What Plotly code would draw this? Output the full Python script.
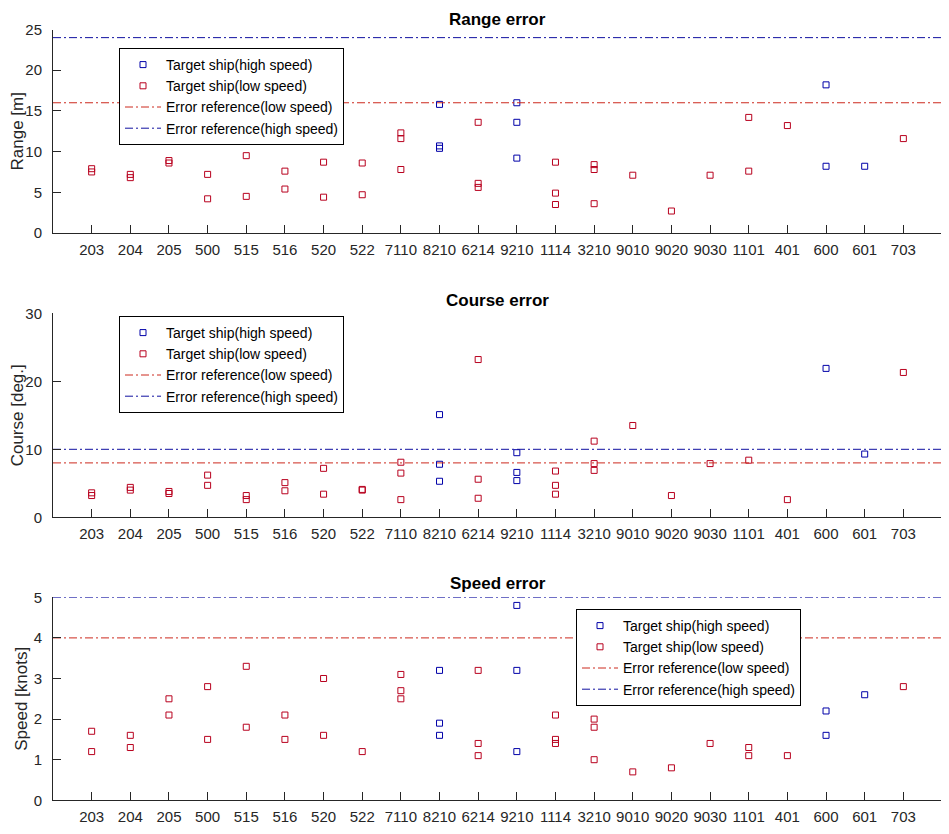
import plotly.graph_objects as go

# ---------------- data ----------------
categories = ["203", "204", "205", "500", "515", "516", "520", "522", "7110", "8210", "6214",
              "9210", "1114", "3210", "9010", "9020", "9030", "1101", "401", "600", "601", "703"]

# Range error [m]
range_high_cat = ["8210", "8210", "8210", "9210", "9210", "9210", "600", "600", "601"]
range_high_val = [15.8, 10.7, 10.4, 16.0, 13.6, 9.2, 18.2, 8.2, 8.2]
range_low_cat = ["203", "203", "204", "204", "205", "205", "500", "500", "515", "515",
                 "516", "516", "520", "520", "522", "522", "7110", "7110", "7110",
                 "6214", "6214", "6214", "1114", "1114", "1114", "3210", "3210", "3210",
                 "9010", "9020", "9030", "1101", "1101", "401", "703"]
range_low_val = [7.9, 7.5, 7.2, 6.8, 8.9, 8.6, 7.2, 4.2, 9.5, 4.5,
                 7.6, 5.4, 8.7, 4.4, 8.6, 4.7, 12.3, 11.6, 7.8,
                 13.6, 6.1, 5.6, 8.7, 4.9, 3.5, 8.4, 7.8, 3.6,
                 7.1, 2.7, 7.1, 14.2, 7.6, 13.2, 11.6]
range_ref_low = 16
range_ref_high = 24

# Course error [deg.]
course_high_cat = ["8210", "8210", "8210", "9210", "9210", "9210", "600", "601"]
course_high_val = [15.1, 7.8, 5.3, 9.5, 6.6, 5.4, 21.9, 9.3]
course_low_cat = ["203", "203", "204", "204", "205", "205", "500", "500", "515", "515",
                  "516", "516", "520", "520", "522", "522", "7110", "7110", "7110",
                  "6214", "6214", "6214", "1114", "1114", "1114", "3210", "3210", "3210",
                  "9010", "9020", "9030", "1101", "401", "703"]
course_low_val = [3.6, 3.2, 4.4, 4.0, 3.8, 3.5, 6.2, 4.7, 3.2, 2.6,
                  5.1, 3.9, 7.2, 3.4, 4.1, 4.0, 8.1, 6.5, 2.6,
                  23.2, 5.6, 2.8, 6.8, 4.7, 3.4, 11.2, 7.9, 6.9,
                  13.5, 3.2, 7.9, 8.4, 2.6, 21.3]
course_ref_low = 8
course_ref_high = 10

# Speed error [knots]
speed_high_cat = ["8210", "8210", "8210", "9210", "9210", "9210", "600", "600", "601"]
speed_high_val = [3.2, 1.9, 1.6, 4.8, 3.2, 1.2, 2.2, 1.6, 2.6]
speed_low_cat = ["203", "203", "204", "204", "205", "205", "500", "500", "515", "515",
                 "516", "516", "520", "520", "522", "7110", "7110", "7110",
                 "6214", "6214", "6214", "1114", "1114", "1114", "3210", "3210", "3210",
                 "9010", "9020", "9030", "1101", "1101", "401", "703"]
speed_low_val = [1.7, 1.2, 1.6, 1.3, 2.5, 2.1, 2.8, 1.5, 3.3, 1.8,
                 2.1, 1.5, 3.0, 1.6, 1.2, 3.1, 2.7, 2.5,
                 3.2, 1.4, 1.1, 2.1, 1.5, 1.4, 2.0, 1.8, 1.0,
                 0.7, 0.8, 1.4, 1.3, 1.1, 1.1, 2.8]
speed_ref_low = 4
speed_ref_high = 5

titles = ["Range error", "Course error", "Speed error"]
ylabels = ["Range [m]", "Course [deg.]", "Speed [knots]"]
yranges = [[0, 25], [0, 30], [0, 5]]
ydticks = [5, 10, 1]

# ---------------- styling ----------------
OFF = 8                      # default page (body) margin
W, H = 949 - OFF, 834 - OFF  # figure size so the whole chart fits in the window
FONT = "Liberation Sans, Arial, Helvetica, sans-serif"
TXT = "#262626"
BLUE = "#0000A8"
RED = "#B8001E"
RED_LINE = "#CC2A1E"
BLUE_LINE = "#1010A0"
DASH = "8px,3px,2px,3px"


def px_x(p):
    return (p - OFF) / W


def px_y(p):
    return 1 - (p - OFF) / H


pos = {c: i + 1 for i, c in enumerate(categories)}
xspan = [0, len(categories) + 1]

x_dom = [px_x(53), px_x(942)]
y_doms = [[px_y(233), px_y(29.5)],
          [px_y(517.3), px_y(313.3)],
          [px_y(800.3), px_y(597.3)]]
title_y = [19.5, 300, 583]
legend_pos = [(119, 48), (119, 316), (576, 609)]

panels = [
    (range_high_cat, range_high_val, range_low_cat, range_low_val, range_ref_low, range_ref_high),
    (course_high_cat, course_high_val, course_low_cat, course_low_val, course_ref_low, course_ref_high),
    (speed_high_cat, speed_high_val, speed_low_cat, speed_low_val, speed_ref_low, speed_ref_high),
]

fig = go.Figure()
layout = dict(width=W, height=H, margin=dict(l=0, r=0, t=0, b=0, autoexpand=False),
              paper_bgcolor="white", plot_bgcolor="white",
              font=dict(family=FONT, color=TXT), showlegend=True, annotations=[])

for k, (hc, hv, lc, lv, rlow, rhigh) in enumerate(panels):
    sfx = "" if k == 0 else str(k + 1)
    xa, ya = "x" + sfx, "y" + sfx
    leg = "legend" + sfx
    fig.add_trace(go.Scatter(x=[pos[c] for c in hc], y=hv, mode="markers",
                             name="Target ship(high speed)", xaxis=xa, yaxis=ya, legend=leg,
                             marker=dict(symbol="square-open", size=6, color=BLUE, line=dict(width=1, color=BLUE))))
    fig.add_trace(go.Scatter(x=[pos[c] for c in lc], y=lv, mode="markers",
                             name="Target ship(low speed)", xaxis=xa, yaxis=ya, legend=leg,
                             marker=dict(symbol="square-open", size=6, color=RED, line=dict(width=1, color=RED))))
    fig.add_trace(go.Scatter(x=xspan, y=[rlow, rlow], mode="lines",
                             name="Error reference(low speed)", xaxis=xa, yaxis=ya, legend=leg,
                             line=dict(color=RED_LINE, width=1, dash=DASH)))
    fig.add_trace(go.Scatter(x=xspan, y=[rhigh, rhigh], mode="lines",
                             name="Error reference(high speed)", xaxis=xa, yaxis=ya, legend=leg,
                             line=dict(color=BLUE_LINE, width=1, dash=DASH)))

    layout["xaxis" + sfx] = dict(domain=x_dom, anchor=ya, range=xspan, automargin=False,
                                 tickmode="array", tickvals=[pos[c] for c in categories], ticktext=categories,
                                 ticks="inside", ticklen=8, tickcolor=TXT, tickwidth=1,
                                 showline=True, linecolor=TXT, linewidth=1, showgrid=False, zeroline=False,
                                 tickfont=dict(size=15, color=TXT, family=FONT), ticklabelstandoff=3)
    layout["yaxis" + sfx] = dict(domain=y_doms[k], anchor=xa, range=yranges[k], dtick=ydticks[k], tick0=0,
                                 automargin=False,
                                 ticks="inside", ticklen=8, tickcolor=TXT, tickwidth=1,
                                 showline=True, linecolor=TXT, linewidth=1, showgrid=False, zeroline=False,
                                 tickfont=dict(size=15, color=TXT, family=FONT), ticklabelstandoff=7,
                                 title=dict(text=ylabels[k], font=dict(size=17, color=TXT, family=FONT), standoff=1))
    lx, ly = legend_pos[k]
    layout[leg] = dict(x=px_x(lx), y=px_y(ly), xanchor="left", yanchor="top",
                       bgcolor="white", bordercolor="#000000", borderwidth=1,
                       font=dict(size=14, color="#000000", family=FONT), itemwidth=36,
                       tracegroupgap=0)
    layout["annotations"].append(dict(text="<b>" + titles[k] + "</b>", xref="paper", yref="paper",
                                      x=(x_dom[0] + x_dom[1]) / 2, y=px_y(title_y[k]),
                                      xanchor="center", yanchor="middle", showarrow=False,
                                      font=dict(size=17, color="#000000", family=FONT)))

fig.update_layout(**layout)
fig.write_html("out.html")
